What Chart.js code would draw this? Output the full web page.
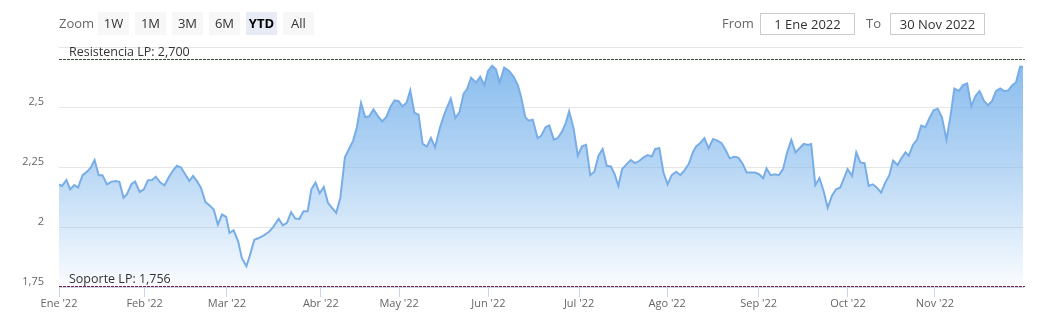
<!DOCTYPE html>
<html>
<head>
<meta charset="utf-8">
<script src="https://cdn.jsdelivr.net/npm/chart.js@4/dist/chart.umd.min.js"></script>
<style>
  body { margin: 0; background: #fff; overflow: hidden; font-family: "Open Sans", "DejaVu Sans", sans-serif; }
  #wrap { position: relative; width: 1039px; height: 328px; }
  #chart { position: absolute; left: 0; top: 0; }
  .lbl { position: absolute; font-size: 13px; color: #666; line-height: 23px; }
  .btn { position: absolute; top: 12px; width: 31px; height: 23px; line-height: 23px; text-align: center;
         background: #f7f7f7; color: #333; font-size: 13px; }
  .btn.sel { background: #e6ebf5; font-weight: bold; color: #000; }
  .inp { position: absolute; top: 13px; height: 20px; line-height: 20px; border: 1px solid #ccc;
         text-align: center; font-size: 13px; color: #333; }
</style>
</head>
<body>
<div id="wrap">
  <canvas id="chart" width="1039" height="328"></canvas>
  <div class="lbl" style="left:59px;top:12px;">Zoom</div>
  <div class="btn" style="left:98px;">1W</div>
  <div class="btn" style="left:135px;">1M</div>
  <div class="btn" style="left:172px;">3M</div>
  <div class="btn" style="left:209px;">6M</div>
  <div class="btn sel" style="left:246px;">YTD</div>
  <div class="btn" style="left:283px;">All</div>
  <div class="lbl" style="left:722px;top:12px;">From</div>
  <div class="inp" style="left:760px;width:93px;">1 Ene 2022</div>
  <div class="lbl" style="left:866px;top:12px;">To</div>
  <div class="inp" style="left:890px;width:93px;">30 Nov 2022</div>
</div>
<script>
// trading-day position (0 = first session of 2022) and closing price
const dayIdx = [
  0, 0.7, 1.8, 2.7, 3.7, 4.6, 5.7, 6.8, 7.7, 8.6, 9.6, 10.5, 11.6, 12.6, 13.6, 14.6, 15.6, 16.4, 17.5, 18.4,
  19.5, 20.5, 21.5, 22.5, 23.4, 24.5, 25.5, 26.5, 27.5, 28.5, 29.5, 30.5, 31.5, 32.4, 33.3, 34.3, 35.4, 36.4, 37.4, 38.4,
  39.4, 40.4, 41.2, 42.2, 43.3, 44.2, 45.3, 46.2, 47.2, 48.3, 49.5, 50.7, 51.6, 53.1, 54.1, 55.1, 56.1, 57.1, 58.1, 59.1,
  60.1, 61, 62, 63, 64, 65, 66, 67, 68, 69.1, 70, 71.1, 72, 73, 74, 75, 76, 77.1, 78.1, 79.1,
  80.1, 81.1, 82.1, 83, 84, 84.9, 85.9, 86.9, 87.9, 88.9, 89.9, 90.9, 92, 92.9, 93.6, 94.7, 95.8, 96.8, 97.8, 98.6,
  99.6, 100.8, 101.8, 102.8, 103.7, 104.7, 105.6, 106.5, 107.6, 108.8, 109.9, 110.9, 111.7, 112.7, 113.5, 114.5, 115.7, 116.6, 117.6, 118.5,
  119.6, 120.5, 121.6, 122.5, 123.3, 124.4, 125.4, 126.4, 127.4, 128.4, 129.4, 130.4, 131.4, 132.4, 133.4, 134.3, 135.2, 136.1, 137.2, 138.2,
  139.2, 140.3, 141.3, 142.3, 143.3, 144.1, 145.1, 146.1, 147.1, 148.1, 149.2, 150.2, 151.2, 152.2, 153.2, 154, 155, 156, 157, 158.1,
  159.1, 160.1, 161.1, 162.1, 163.2, 164.2, 165.2, 166.2, 167.2, 168.2, 169.2, 170.2, 171, 172, 173, 174, 175, 176, 177, 178,
  179, 180, 181, 181.8, 182.8, 183.8, 184.8, 185.8, 186.8, 187.8, 188.8, 189.7, 190.6, 191.7, 192.7, 193.7, 194.7, 195.7, 196.7, 197.7,
  198.7, 199.7, 200.7, 201.6, 202.7, 203.6, 204.6, 205.4, 206.4, 207.4, 208.4, 209.4, 210.4, 211.4, 212.4, 213.4, 214.5, 215.5, 216.4, 217.5,
  218.5, 219.5, 220.5, 221.5, 222.5, 223.5, 224.5, 225.5, 226.5, 227.5, 228.5, 229.5, 230.4, 231.3, 232.3, 233
];
const closes = [
  2.178, 2.170, 2.196, 2.157, 2.175, 2.164, 2.216, 2.231, 2.248, 2.279, 2.216, 2.216, 2.178, 2.188, 2.192, 2.188, 2.122, 2.136, 2.178, 2.189,
  2.146, 2.157, 2.195, 2.196, 2.210, 2.185, 2.174, 2.206, 2.234, 2.255, 2.248, 2.220, 2.192, 2.213, 2.192, 2.164, 2.104, 2.090, 2.073, 2.010,
  2.052, 2.042, 1.975, 1.986, 1.940, 1.870, 1.836, 1.885, 1.947, 1.954, 1.965, 1.979, 1.996, 2.034, 2.007, 2.017, 2.062, 2.035, 2.034, 2.066,
  2.066, 2.157, 2.185, 2.140, 2.167, 2.101, 2.080, 2.059, 2.122, 2.290, 2.322, 2.360, 2.416, 2.517, 2.458, 2.461, 2.490, 2.462, 2.440, 2.458,
  2.500, 2.528, 2.524, 2.503, 2.518, 2.570, 2.476, 2.468, 2.346, 2.335, 2.371, 2.332, 2.409, 2.458, 2.490, 2.535, 2.454, 2.479, 2.556, 2.574,
  2.622, 2.602, 2.626, 2.591, 2.650, 2.672, 2.657, 2.602, 2.664, 2.650, 2.626, 2.591, 2.542, 2.458, 2.443, 2.447, 2.370, 2.381, 2.416, 2.423,
  2.364, 2.370, 2.398, 2.434, 2.482, 2.409, 2.297, 2.336, 2.342, 2.216, 2.230, 2.297, 2.325, 2.255, 2.252, 2.220, 2.171, 2.241, 2.262, 2.279,
  2.266, 2.276, 2.290, 2.300, 2.294, 2.325, 2.328, 2.227, 2.178, 2.216, 2.230, 2.216, 2.237, 2.262, 2.311, 2.336, 2.350, 2.370, 2.328, 2.367,
  2.360, 2.350, 2.322, 2.286, 2.293, 2.289, 2.265, 2.227, 2.227, 2.227, 2.220, 2.203, 2.244, 2.216, 2.220, 2.216, 2.241, 2.311, 2.363, 2.311,
  2.328, 2.346, 2.342, 2.346, 2.174, 2.203, 2.150, 2.080, 2.129, 2.157, 2.164, 2.202, 2.241, 2.213, 2.311, 2.269, 2.266, 2.171, 2.178, 2.164,
  2.143, 2.185, 2.216, 2.276, 2.258, 2.286, 2.311, 2.297, 2.342, 2.364, 2.423, 2.416, 2.454, 2.486, 2.493, 2.458, 2.364, 2.465, 2.577, 2.567,
  2.591, 2.598, 2.503, 2.546, 2.566, 2.528, 2.507, 2.524, 2.567, 2.577, 2.566, 2.570, 2.591, 2.602, 2.668, 2.668
];
const monthTicks = [0, 20.7, 40.6, 63.3, 82.2, 103.8, 125.7, 147, 169.1, 190.7, 211.7];
const monthLabels = ["Ene '22", "Feb '22", "Mar '22", "Abr '22", "May '22", "Jun '22", "Jul '22", "Ago '22", "Sep '22", "Oct '22", "Nov '22"];
const levelValues = [2.7, 1.756];
const levelNames = ['Resistencia LP: 2,700', 'Soporte LP: 1,756'];
const levelColors = ['#37473a', '#7a1f3f'];

const fontFamily = '"Open Sans", "DejaVu Sans", sans-serif';

const levelLines = {
  id: 'levelLines',
  afterDatasetsDraw(chart) {
    const { ctx, chartArea, scales } = chart;
    ctx.save();
    levelValues.forEach((v, i) => {
      const y = Math.round(scales.y.getPixelForValue(v)) + 0.5;
      ctx.strokeStyle = levelColors[i];
      ctx.lineWidth = 1;
      ctx.setLineDash([3, 1]);
      ctx.beginPath();
      ctx.moveTo(chartArea.left, y);
      ctx.lineTo(chartArea.right + 2, y);
      ctx.stroke();
      ctx.setLineDash([]);
      ctx.fillStyle = '#333';
      ctx.font = '12.5px ' + fontFamily;
      ctx.textBaseline = 'bottom';
      ctx.fillText(levelNames[i], chartArea.left + 10, y - 0.5);
    });
    ctx.restore();
  }
};

const ctx = document.getElementById('chart').getContext('2d');
const myChart = new Chart(ctx, {
  type: 'line',
  data: {
    datasets: [{
      data: dayIdx.map((x, i) => ({ x: x, y: closes[i] })),
      borderColor: '#78ade6',
      borderWidth: 2,
      pointRadius: 0,
      tension: 0,
      fill: 'start',
      backgroundColor: (context) => {
        const area = context.chart.chartArea;
        if (!area) return 'rgba(124,181,236,0.5)';
        const g = context.chart.ctx.createLinearGradient(0, area.top, 0, area.bottom);
        g.addColorStop(0, 'rgba(124,181,236,0.95)');
        g.addColorStop(0.5, 'rgba(124,181,236,0.55)');
        g.addColorStop(1, 'rgba(124,181,236,0.04)');
        return g;
      }
    }]
  },
  options: {
    responsive: false,
    animation: false,
    layout: { padding: { top: 47, right: 16, bottom: 0, left: 0 } },
    plugins: {
      legend: { display: false },
      tooltip: { enabled: false }
    },
    scales: {
      x: {
        type: 'linear',
        min: 0,
        max: 233,
        afterBuildTicks: (axis) => { axis.ticks = monthTicks.map(v => ({ value: v })); },
        afterFit: (axis) => { axis.height = 41; },
        ticks: {
          autoSkip: false,
          maxRotation: 0,
          padding: 0,
          color: '#666',
          font: { family: fontFamily, size: 11 },
          callback: (v, i) => monthLabels[i]
        },
        grid: { drawOnChartArea: false, tickLength: 10, color: '#ccd6eb' },
        border: { color: '#ccd6eb' }
      },
      y: {
        min: 1.75,
        max: 2.75,
        afterFit: (axis) => { axis.width = 59; },
        ticks: {
          stepSize: 0.25,
          padding: 15,
          labelOffset: -5,
          color: '#666',
          font: { family: fontFamily, size: 11 },
          callback: (v) => v === 2.75 ? '' : String(v).replace('.', ',')
        },
        grid: { color: '#e6e6e6', drawTicks: false },
        border: { display: false }
      }
    }
  },
  plugins: [levelLines]
});
</script>
</body>
</html>
